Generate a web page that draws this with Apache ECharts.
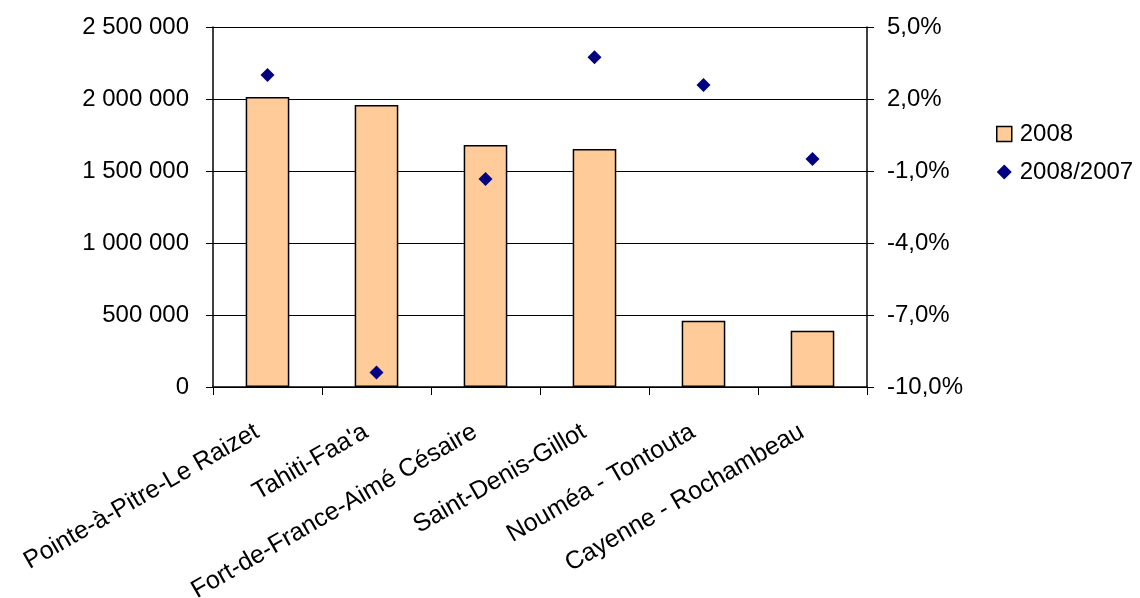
<!DOCTYPE html>
<html><head><meta charset="utf-8">
<script src="https://cdn.jsdelivr.net/npm/echarts@6/dist/echarts.min.js"></script>
<style>html,body{margin:0;padding:0;background:#fff}#c{width:1140px;height:598px}</style>
</head><body><div id="c"></div>
<script>
const categories = ["Pointe-à-Pitre-Le Raizet","Tahiti-Faa'a","Fort-de-France-Aimé Césaire","Saint-Denis-Gillot","Nouméa - Tontouta","Cayenne - Rochambeau"];
const passengers2008 = [2014000, 1958000, 1681000, 1653000, 460000, 391000];
const change2008_2007 = [3.0, -9.4, -1.33, 3.74, 2.58, -0.5];
const seriesNames = ["2008", "2008/2007"];

const font = "Liberation Sans, Arial, sans-serif";
const FS = 24;
const chart = echarts.init(document.getElementById('c'));
chart.setOption({
  animation: false,
  textStyle: {fontFamily: font},
  grid: {left: 213, right: 273, top: 27, bottom: 211, containLabel: false, outerBoundsMode: 'none'},
  legend: {
    orient: 'vertical', left: 991, top: 117, itemGap: 14,
    itemWidth: 15, itemHeight: 15,
    textStyle: {fontSize: FS, color: '#000', fontFamily: font, padding: [0, 0, 0, 3]},
    data: [
      {name: seriesNames[0], icon: 'rect', itemStyle: {color: '#FFCC99', borderColor: '#000', borderWidth: 1.5}},
      {name: seriesNames[1], icon: 'diamond', itemStyle: {color: '#000080', opacity: 1}}
    ]
  },
  xAxis: {
    type: 'category', data: categories,
    axisLine: {lineStyle: {color: '#000', width: 1.5}},
    axisTick: {show: true, alignWithLabel: false, length: 8, lineStyle: {color: '#000'}},
    axisLabel: {rotate: 30, fontSize: 25, color: '#000', margin: 37, interval: 0, fontFamily: font,
      padding: [0, 12, 0, 0]}
  },
  yAxis: [
    {
      type: 'value', min: 0, max: 2500000, interval: 500000,
      axisLine: {show: true, lineStyle: {color: '#000', width: 1.5}},
      axisTick: {show: true, length: 7, lineStyle: {color: '#000'}},
      splitLine: {lineStyle: {color: '#000', width: 1}},
      axisLabel: {fontSize: FS, color: '#000', margin: 24, fontFamily: font,
        formatter: v => String(v).replace(/\B(?=(\d{3})+(?!\d))/g, ' ')}
    },
    {
      type: 'value', min: -10, max: 5, interval: 3,
      axisLine: {show: true, lineStyle: {color: '#000', width: 1.5}},
      axisTick: {show: true, length: 7, lineStyle: {color: '#000'}},
      splitLine: {show: false},
      axisLabel: {fontSize: FS, color: '#000', margin: 20, fontFamily: font,
        formatter: v => v.toFixed(1).replace('.', ',') + '%'}
    }
  ],
  series: [
    {
      name: seriesNames[0], type: 'bar', data: passengers2008, yAxisIndex: 0,
      barWidth: '40%',
      itemStyle: {color: '#FFCC99', borderColor: '#000', borderWidth: 1.5}
    },
    {
      name: seriesNames[1], type: 'scatter', data: change2008_2007, yAxisIndex: 1,
      symbol: 'diamond', symbolSize: 14,
      itemStyle: {color: '#000080', opacity: 1}
    }
  ]
});
</script></body></html>
